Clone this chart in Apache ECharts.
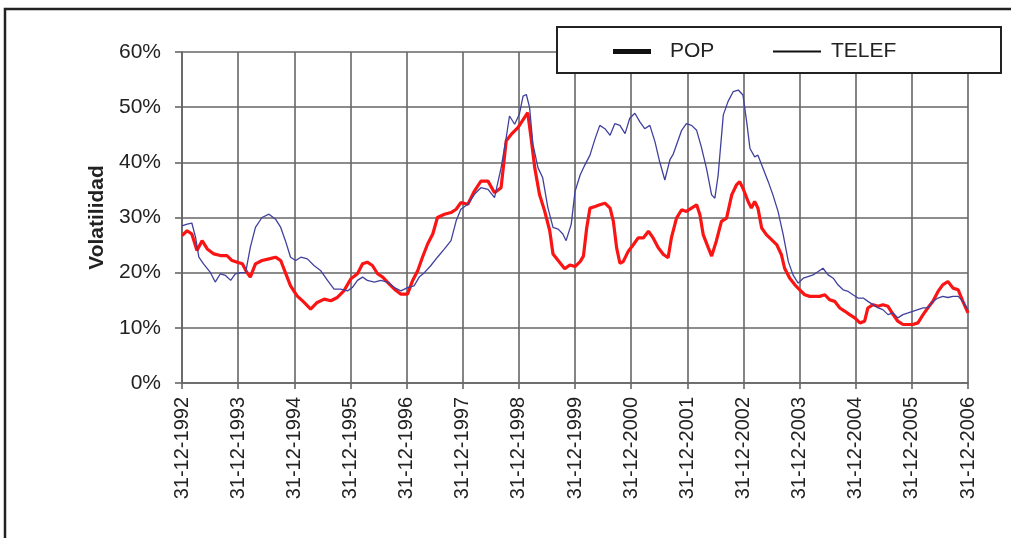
<!DOCTYPE html>
<html>
<head>
<meta charset="utf-8">
<script src="https://cdn.jsdelivr.net/npm/echarts@6/dist/echarts.min.js"></script>
<style>
  html, body { margin: 0; padding: 0; background: #fff; }
  #chart { width: 1011px; height: 538px; }
</style>
</head>
<body>
<div id="chart"></div>
<script>
// meses desde 31-12-1992, volatilidad en %
const monthTicks = [0, 12, 24, 36, 48, 60, 72, 84, 96, 108, 120, 132, 144, 156, 168]
const yTicks = [0, 10, 20, 30, 40, 50, 60]

const pop = [
  [0,26.7],[1.1,27.6],[2.1,27],[3.2,24],[4.3,25.8],[5.4,24.3],[6.8,23.4],[8.2,23.1],[9.6,23.1],[10.7,22.2],
  [11.8,21.9],[12.9,21.6],[13.9,20],[14.6,19.2],[15.7,21.6],[17.1,22.2],[18.6,22.5],[20,22.8],[21.1,22.2],[22.1,20],
  [23.2,17.6],[24.6,15.8],[26.1,14.6],[27.5,13.4],[28.9,14.6],[30.4,15.2],[31.8,14.9],[33.2,15.5],[34.6,16.7],[36.1,18.9],
  [37.5,19.8],[38.6,21.6],[39.6,21.9],[40.7,21.3],[41.8,19.8],[42.9,19.2],[43.9,18.3],[45.4,17],[46.8,16.1],[48.2,16.1],
  [49.3,18.6],[50.4,20.4],[51.4,22.8],[52.5,25.2],[53.6,27],[54.6,30],[56.1,30.6],[57.5,30.9],[58.6,31.5],[59.6,32.7],
  [61.1,32.4],[62.5,34.8],[63.9,36.6],[65.4,36.6],[66.8,34.5],[68.2,35.4],[69.3,43.9],[70.4,45.1],[71.8,46.3],[73.2,48.1],
  [73.9,49],[74.6,44.5],[75.4,39],[76.4,34.2],[77.5,31.2],[78.6,27.6],[79.3,23.4],[80.4,22.2],[81.8,20.7],[82.9,21.4],
  [84,21.1],[85.1,22],[85.8,23],[86.5,28.1],[87.2,31.7],[88.3,32],[89.3,32.3],[90.4,32.6],[91.5,31.7],[92.2,29.3],
  [92.9,24.5],[93.6,21.7],[94.3,22],[95.4,23.9],[96.5,25.1],[97.5,26.3],[98.6,26.3],[99.7,27.5],[100.7,26.3],[101.8,24.5],
  [102.9,23.3],[103.9,22.7],[104.6,26.3],[105.7,29.9],[106.8,31.4],[107.8,31.1],[108.9,31.7],[110,32.3],[110.7,30.5],[111.4,26.9],
  [112.5,24.5],[113.2,23],[114.2,25.7],[115.3,29.3],[116.4,29.9],[117.5,34.1],[118.5,35.9],[119.2,36.5],[119.9,35.3],[121,32.9],
  [121.7,31.7],[122.4,32.9],[123.1,31.7],[123.9,28.1],[124.9,26.9],[126,26],[127.1,25.1],[128.1,23.3],[128.8,20.8],[129.9,19],
  [131,17.8],[132,16.9],[133.1,16],[134.2,15.7],[135.2,15.7],[136.3,15.7],[137.4,16],[138.4,15.1],[139.5,14.8],[140.6,13.6],
  [141.7,13],[142.7,12.4],[143.8,11.8],[144.9,10.9],[145.9,11.2],[146.6,13.6],[147.7,14.2],[148.8,13.9],[149.8,14.2],[150.9,13.9],
  [152,12.4],[153,11.2],[154.1,10.6],[155.2,10.6],[156.2,10.6],[157.3,10.9],[158.4,12.4],[159.4,13.6],[160.5,14.8],[161.6,16.6],
  [162.6,17.8],[163.7,18.4],[164.8,17.2],[165.9,16.9],[166.9,14.8],[168,12.7]
]

const telef = [
  [0,28.5],[1.1,28.8],[2.1,29],[2.9,26.4],[3.6,22.8],[4.6,21.6],[6.1,20],[7.1,18.3],[8.2,19.8],[9.3,19.5],
  [10.4,18.6],[11.4,19.8],[12.5,20],[13.6,20],[14.6,24.6],[15.7,28.2],[17.1,30],[18.6,30.6],[20,29.7],[21.1,28.2],
  [22.1,25.8],[23.2,22.8],[24.3,22.2],[25.4,22.8],[26.8,22.5],[28.2,21.3],[29.6,20.4],[31.1,18.6],[32.5,17],[33.9,17],
  [35.4,16.7],[36.4,17.3],[37.5,18.6],[38.6,19.2],[39.6,18.6],[41.1,18.3],[42.5,18.6],[43.9,18.3],[45.4,17.3],[46.8,16.7],
  [48.2,17.3],[49.6,17.6],[50.7,19.2],[51.8,20],[53.2,21.3],[54.6,22.8],[56.1,24.3],[57.5,25.8],[58.6,29.4],[59.6,31.5],
  [61.1,32.4],[62.5,34.2],[63.9,35.4],[65.4,35.1],[66.8,33.6],[68.2,39],[69.3,44.5],[70,48.4],[71.1,46.9],[72.1,48.7],
  [72.9,52],[73.6,52.3],[74.3,49.9],[75,43.3],[76.1,39],[77.1,37.2],[78.2,31.8],[79.3,28.2],[80.4,27.9],[81.4,27],
  [82.1,25.8],[83.2,28.8],[84,34.7],[85.1,37.7],[86.1,39.5],[87.2,41.3],[88.3,44.3],[89.3,46.7],[90.4,46.1],[91.5,44.9],
  [92.5,47],[93.6,46.7],[94.7,45.2],[95.7,48],[96.8,48.9],[97.9,47.3],[98.9,46.1],[100,46.7],[101.1,43.7],[102.1,40.1],
  [103.2,36.8],[104.3,40.5],[105,41.5],[106.8,45.8],[107.8,47],[108.9,46.7],[110,45.8],[111,42.8],[112.1,38.9],[113.2,34.1],
  [113.9,33.5],[114.6,37.7],[115.7,48.6],[116.7,51],[117.8,52.8],[118.9,53.1],[119.9,52.2],[120.7,47.3],[121.4,42.5],[122.4,41],
  [123.1,41.3],[124.2,38.9],[125.3,36.5],[126.3,34.1],[127.4,31.1],[128.5,26.9],[129.6,22],[130.6,19.6],[131.7,18.1],[132.8,19],
  [133.8,19.3],[134.9,19.6],[136,20.2],[137,20.8],[138.1,19.6],[139.2,19],[140.2,17.8],[141.3,16.9],[142.4,16.6],[143.4,16],
  [144.5,15.4],[145.6,15.4],[146.6,14.8],[147.7,14.2],[148.8,13.6],[149.8,13.3],[150.9,12.4],[152,12.7],[153,11.8],[154.1,12.4],
  [155.2,12.7],[156.2,13],[157.3,13.3],[158.4,13.6],[159.4,13.6],[160.5,14.8],[161.6,15.4],[162.6,15.7],[163.7,15.5],[164.8,15.7],
  [165.9,15.7],[166.9,14.8],[168,13.3]
]

let chart = echarts.init(document.getElementById('chart'))
const gridColor = '#666'
const font = '"Liberation Sans", Arial, sans-serif'

let option = {
  animation: false,
  textStyle: { fontFamily: font },
  grid: { left: 182, right: 43, top: 52, bottom: 155, containLabel: false },
  graphic: [
    // marco exterior
    { type: 'rect', z: 1, silent: true,
      shape: { x: 5, y: 9, width: 1030, height: 560 },
      style: { fill: 'none', stroke: '#222', lineWidth: 2.5 } },
    // caja de la leyenda
    { type: 'rect', z: 50, silent: true,
      shape: { x: 557, y: 27, width: 444, height: 46 },
      style: { fill: '#fff', stroke: '#222', lineWidth: 2 } }
  ],
  legend: [
    { data: ['POP'], left: 613, top: 41, z: 60, padding: 0, icon: 'rect',
      itemWidth: 38, itemHeight: 5,
      itemStyle: { color: '#111' },
      textStyle: { fontSize: 21, color: '#222', fontFamily: font, padding: [0, 0, 0, 14] } },
    { data: ['TELEF'], left: 773, top: 41, z: 60, padding: 0, icon: 'rect',
      itemWidth: 48, itemHeight: 2,
      itemStyle: { color: '#111' },
      textStyle: { fontSize: 21, color: '#222', fontFamily: font, padding: [0, 0, 0, 5] } }
  ],
  xAxis: {
    type: 'value', min: 0, max: 168, interval: 12,
    axisLine: { show: true, lineStyle: { color: gridColor, width: 1.6 } },
    axisTick: { show: true, length: 6, lineStyle: { color: gridColor, width: 1.6 } },
    splitLine: { show: true, lineStyle: { color: gridColor, width: 1.6 } },
    axisLabel: {
      rotate: 90, margin: 14, fontSize: 20, color: '#222', fontFamily: font,
      showMinLabel: true, showMaxLabel: true,
      formatter: v => monthTicks.includes(v) ? '31-12-' + (1992 + v / 12) : ''
    }
  },
  yAxis: {
    type: 'value', min: yTicks[0], max: yTicks[yTicks.length - 1], interval: 10,
    name: 'Volatilidad', nameLocation: 'middle', nameGap: 74,
    nameTextStyle: { fontSize: 21, fontWeight: 'bold', color: '#222', fontFamily: font },
    axisLine: { show: true, lineStyle: { color: gridColor, width: 1.6 } },
    axisTick: { show: true, length: 7, lineStyle: { color: gridColor, width: 1.6 } },
    splitLine: { show: true, lineStyle: { color: gridColor, width: 1.6 } },
    axisLabel: { margin: 21, fontSize: 21, color: '#222', fontFamily: font, formatter: '{value}%' }
  },
  series: [
    { name: 'POP', type: 'line', data: pop, symbol: 'none', z: 3,
      lineStyle: { color: '#fa1414', width: 3.2 }, itemStyle: { color: '#fa1414' } },
    { name: 'TELEF', type: 'line', data: telef, symbol: 'none', z: 4,
      lineStyle: { color: '#40409e', width: 1.3 }, itemStyle: { color: '#40409e' } }
  ]
}
chart.setOption(option)
</script>
</body>
</html>
